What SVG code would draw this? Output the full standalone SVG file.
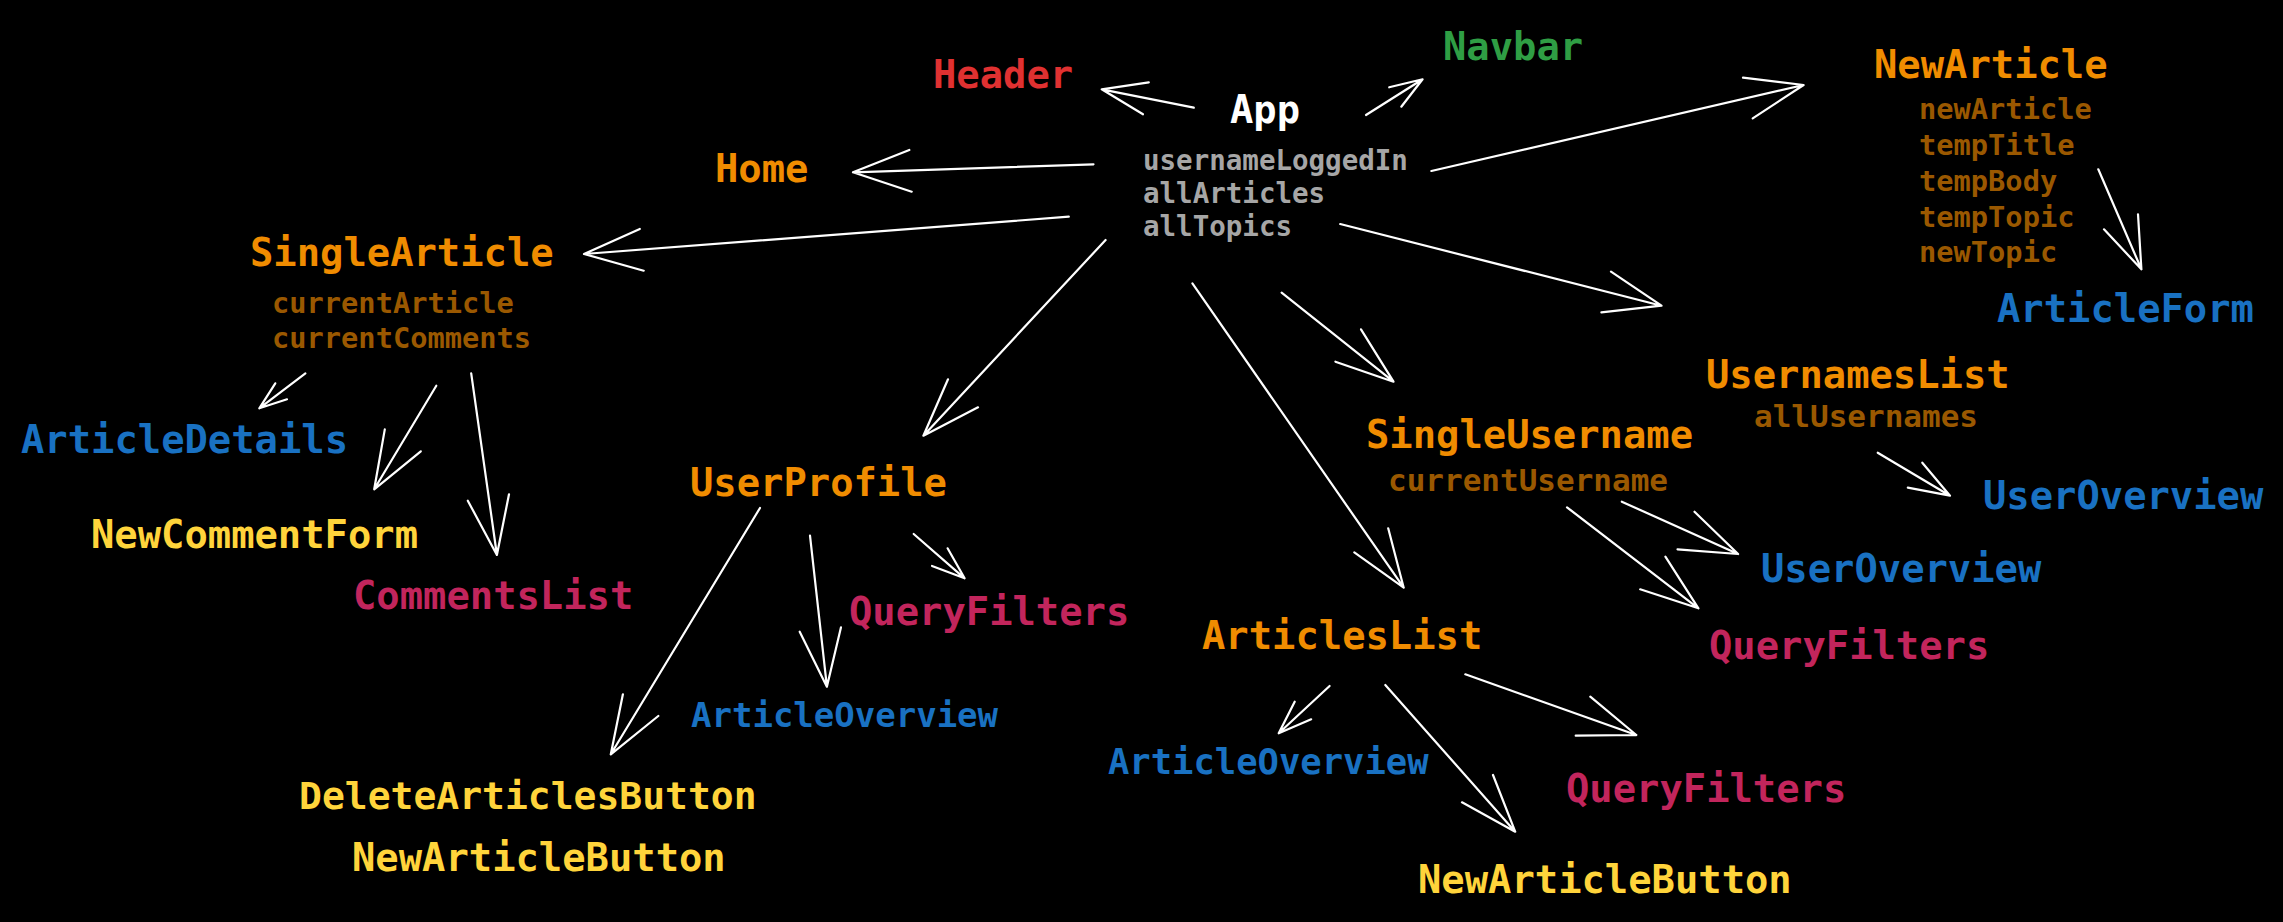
<svg xmlns="http://www.w3.org/2000/svg" width="2283" height="922" viewBox="0 0 2283 922">
<style>
text{font-family:"DejaVu Sans Mono","Liberation Mono",monospace;font-weight:bold}
.t{font-size:38.8px}
.s{font-size:28.7px}
.or{fill:#f08c00}.rd{fill:#e03131}.gr{fill:#2f9e44}.bl{fill:#1971c2}.ye{fill:#ffd43b}.cr{fill:#c2255c}.br{fill:#9a5800}.gy{fill:#a6a6a6}.wh{fill:#ffffff}
#connectors path{fill:none;stroke:#ffffff;stroke-width:2.2;stroke-linecap:round;stroke-linejoin:round}
</style>
<rect width="2283" height="922" fill="#000000"/>
<g id="connectors">
<path d="M1193.8,107.7 L1101.7,89.3 M1148.8,82.3 L1101.7,89.3 L1143,114.3"/>
<path d="M1366,115 L1422.6,79.3 M1389.2,87.3 L1422.6,79.3 L1401.3,106.7"/>
<path d="M1093.5,164.3 L853,172.3 M909.3,150 L853,172.3 L911.7,191.7"/>
<path d="M1068.8,216.7 L584,254 M639.8,229 L584,254 L643.7,270.7"/>
<path d="M1105.6,240 L923.4,435.7 M948,379.3 L923.4,435.7 L978,407.3"/>
<path d="M1192.4,283.3 L1403.7,587.7 M1388.2,528.3 L1403.7,587.7 L1354.3,552.3"/>
<path d="M1281.6,292.7 L1393.5,381.7 M1361,329.3 L1393.5,381.7 L1335.4,361.7"/>
<path d="M1431.4,171 L1803.6,85 M1743,77.7 L1803.6,85 L1752.7,118.3"/>
<path d="M1340.2,224 L1661.5,305.7 M1611,271.7 L1661.5,305.7 L1601.4,312.3"/>
<path d="M2098.3,169.3 L2141.4,269.3 M2138,214.3 L2141.4,269.3 L2104,229.3"/>
<path d="M1877.7,452.7 L1950,495.7 M1922.3,462.7 L1950,495.7 L1907.8,487.7"/>
<path d="M1621.8,501.7 L1738.1,554 M1694.5,511.7 L1738.1,554 L1677.5,549.3"/>
<path d="M1567,507.3 L1698.4,608.3 M1665.4,556.7 L1698.4,608.3 L1640.2,589.3"/>
<path d="M1465.3,674.3 L1636.3,735 M1590.3,696.7 L1636.3,735 L1575.7,735.7"/>
<path d="M1329.6,686 L1278.7,733.3 M1294.7,701.7 L1278.7,733.3 L1311.2,719.3"/>
<path d="M1385.3,685 L1515.2,831.7 M1493,775 L1515.2,831.7 L1462,802.3"/>
<path d="M913.7,534 L964.6,578.3 M947.6,548.3 L964.6,578.3 L932,566"/>
<path d="M810,535.7 L826.9,686.7 M841,627.3 L826.9,686.7 L799.7,631.7"/>
<path d="M760,508 L610.8,754.3 M622.9,694.3 L610.8,754.3 L658.3,716"/>
<path d="M305.4,373.3 L259.3,408.3 M275.3,383.3 L259.3,408.3 L287,399.3"/>
<path d="M436.3,385.7 L374.2,489.3 M384.8,429.4 L374.2,489.3 L420.8,451.3"/>
<path d="M471.2,373.3 L496.9,555 M509,494.3 L496.9,555 L467.8,500.7"/>
</g>
<g id="app"><text class="t wh" x="1230" y="123">App</text>
<text class="gy" font-size="27.5" x="1143" y="170">usernameLoggedIn</text>
<text class="gy" font-size="27.5" x="1143" y="203">allArticles</text>
<text class="gy" font-size="27.5" x="1143" y="236">allTopics</text></g>
<g id="header"><text class="t rd" x="933" y="88">Header</text></g>
<g id="navbar"><text class="t gr" x="1443" y="60">Navbar</text></g>
<g id="home"><text class="t or" x="715" y="182">Home</text></g>
<g id="newarticle"><text class="t or" x="1874" y="78">NewArticle</text>
<text class="s br" x="1919" y="119">newArticle</text>
<text class="s br" x="1919" y="155">tempTitle</text>
<text class="s br" x="1919" y="191">tempBody</text>
<text class="s br" x="1919" y="227">tempTopic</text>
<text class="s br" x="1919" y="262">newTopic</text></g>
<g id="articleform"><text class="t bl" x="1997" y="322">ArticleForm</text></g>
<g id="singlearticle"><text class="t or" x="250" y="266">SingleArticle</text>
<text class="s br" x="272" y="313">currentArticle</text>
<text class="s br" x="272" y="348">currentComments</text></g>
<g id="articledetails"><text class="t bl" x="21" y="453">ArticleDetails</text></g>
<g id="newcommentform"><text class="t ye" x="91" y="548">NewCommentForm</text></g>
<g id="commentslist"><text class="t cr" x="353" y="609">CommentsList</text></g>
<g id="userprofile"><text class="t or" x="690" y="496">UserProfile</text></g>
<g id="queryfilters1"><text class="t cr" x="849" y="625">QueryFilters</text></g>
<g id="articleoverview1"><text class="bl" font-size="34" x="691" y="727">ArticleOverview</text></g>
<g id="deletearticlesbutton"><text class="ye" font-size="38" x="299" y="809">DeleteArticlesButton</text></g>
<g id="newarticlebutton1"><text class="t ye" x="352" y="871">NewArticleButton</text></g>
<g id="singleusername"><text class="t or" x="1366" y="448">SingleUsername</text>
<text class="br" font-size="31" x="1388" y="491">currentUsername</text></g>
<g id="usernameslist"><text class="t or" x="1706" y="388">UsernamesList</text>
<text class="br" font-size="31" x="1754" y="427">allUsernames</text></g>
<g id="useroverview1"><text class="t bl" x="1983" y="509">UserOverview</text></g>
<g id="useroverview2"><text class="t bl" x="1761" y="582">UserOverview</text></g>
<g id="queryfilters2"><text class="t cr" x="1709" y="659">QueryFilters</text></g>
<g id="articleslist"><text class="t or" x="1202" y="649">ArticlesList</text></g>
<g id="articleoverview2"><text class="bl" font-size="35.5" x="1108" y="774">ArticleOverview</text></g>
<g id="queryfilters3"><text class="t cr" x="1566" y="802">QueryFilters</text></g>
<g id="newarticlebutton2"><text class="t ye" x="1418" y="893">NewArticleButton</text></g>
</svg>
